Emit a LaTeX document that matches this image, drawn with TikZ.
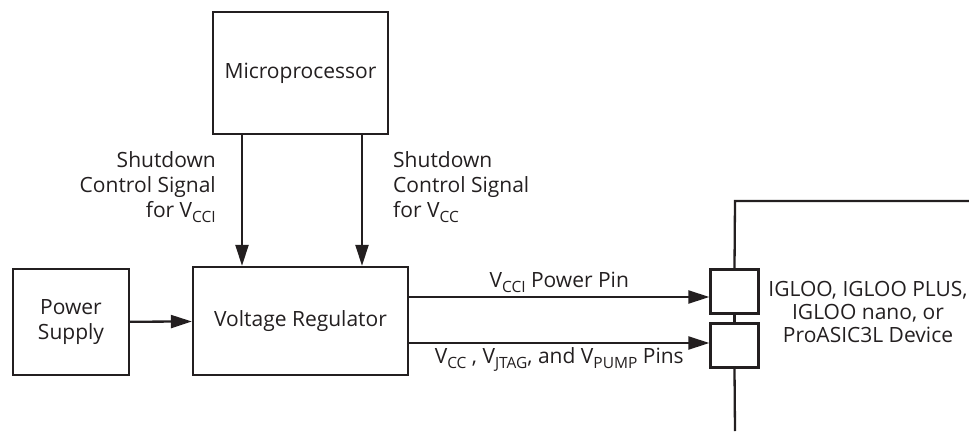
\documentclass[tikz,border=0pt]{standalone}
\usepackage{fontspec}
\setmainfont{Open Sans}
\usepackage{tikz}
\usetikzlibrary{arrows.meta, positioning}
\definecolor{linegray}{RGB}{35, 31, 32}
\newcommand{\vsub}[1]{V\raisebox{-0.45ex}{\fontsize{15.5}{15.5}\selectfont #1}}

\begin{document}
\begin{tikzpicture}[x=1pt, y=-1pt,
      box/.style={
        rectangle, draw=linegray, line width=2.3pt, fill=white,
        font=\fontsize{21}{25}\selectfont, text=linegray,
        align=center, inner sep=0pt
      },
      pinbox/.style={
        rectangle, draw=linegray, line width=2.3pt, fill=white,
        minimum width=48pt, minimum height=44pt, inner sep=0pt
      },
      lbl/.style={font=\fontsize{21}{25}\selectfont, text=linegray, inner sep=2pt},
      arr/.style={-{Triangle[length=21pt, width=13pt]}, line width=2.3pt, color=linegray},
      dev/.style={line width=2.3pt, color=linegray}
  ]
    \useasboundingbox (0,0) rectangle (969,431);

    \node[box, minimum width=175pt, minimum height=122pt] (mp)  at (300.5,73)  {Microprocessor};
    \node[box, minimum width=215pt, minimum height=108pt] (vr)  at (300.5,321) {Voltage Regulator};
    \node[box, minimum width=116pt, minimum height=106pt] (ps)  at (71,322)    {Power\\Supply};
    \node[pinbox] (pin1) at (734.5,291.5) {};
    \node[pinbox] (pin2) at (734.5,345.5) {};

    \node[lbl, anchor=north east, align=right] (sdl) at (218,149)
      {Shutdown\\Control Signal\\for \vsub{CCI}};
    \node[lbl, anchor=north west, align=left]  (sdr) at (391,149)
      {Shutdown\\Control Signal\\for \vsub{CC}};
    \node[lbl, align=center, font=\fontsize{21}{23}\selectfont] (igl) at (868,312)
      {IGLOO, IGLOO PLUS,\\IGLOO nano, or\\ProASIC3L Device};

    \coordinate (devtop) at (735,201);
    \coordinate (devcorner) at (969,201);
    \coordinate (devbot) at (735,431);

    \draw[dev] (devbot) -- (pin2.south);
    \draw[dev] (pin2.north) -- (pin1.south);
    \draw[dev] (pin1.north) -- (devtop) -- (devcorner);

    \draw[arr] ([xshift=-58.5pt]mp.south) -- ([xshift=-58.5pt]vr.north);
    \draw[arr] ([xshift=61.5pt]mp.south)  -- ([xshift=61.5pt]vr.north);
    \draw[arr] (ps) -- (vr);
    \draw[arr] (vr.east |- 0,297) -- node[lbl, above=1pt] {\vsub{CCI} Power Pin} (pin1.west |- 0,297);
    \draw[arr] (vr.east |- 0,343) -- node[lbl, below=1pt]
      {\vsub{CC} , \vsub{JTAG}, and \vsub{PUMP} Pins} (pin2.west |- 0,343);
  \end{tikzpicture}
\end{document}
